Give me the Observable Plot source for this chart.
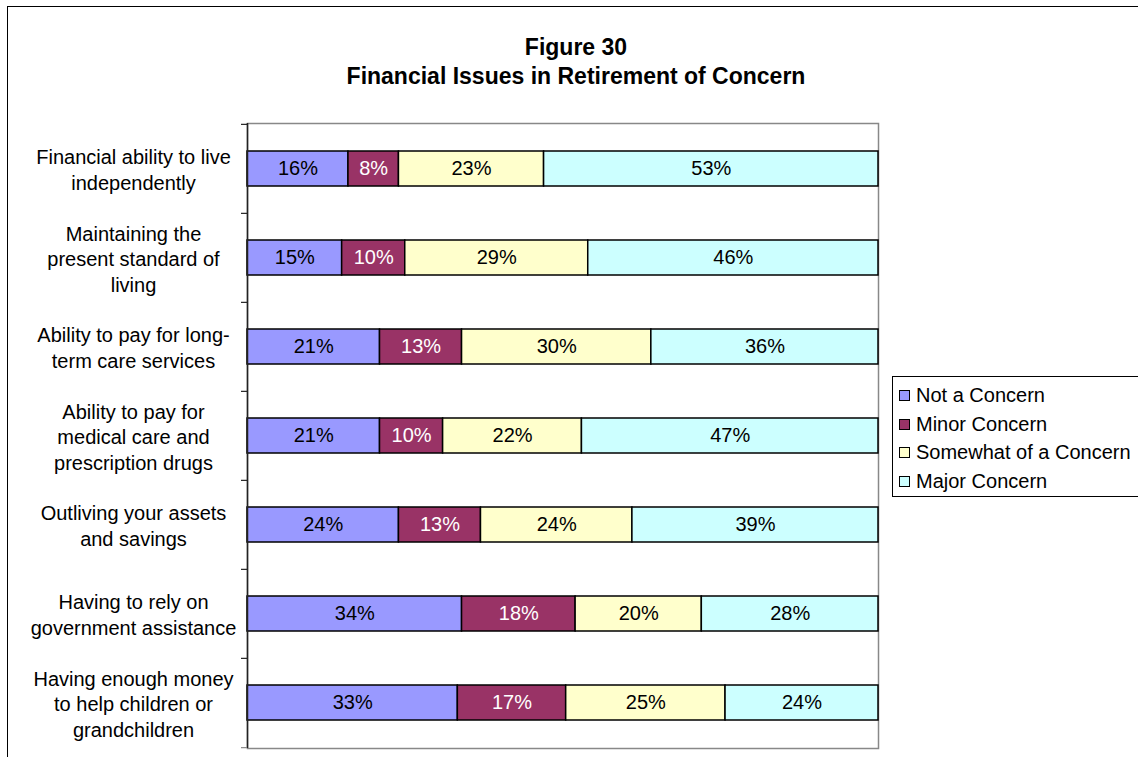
<!DOCTYPE html>
<html>
<head>
<meta charset="utf-8">
<script src="https://cdn.jsdelivr.net/npm/d3@7"></script>
<script src="https://cdn.jsdelivr.net/npm/@observablehq/plot@0.6"></script>
<style>
  html, body { margin: 0; padding: 0; background: #fff; overflow: hidden; }
  body { width: 1138px; height: 757px; position: relative; font-family: "Liberation Sans", Arial, sans-serif; }
  #frame { position: absolute; left: 7px; top: 6px; width: 1150px; height: 770px; border: 1px solid #000; box-sizing: border-box; }
  #title { position: absolute; left: 0; width: 1152px; top: 33px; text-align: center; font-weight: bold; font-size: 23px; line-height: 29px; color: #000; }
  #chart { position: absolute; left: 0; top: 0; }
  #legend { position: absolute; left: 892px; top: 376px; width: 270px; height: 121px; border: 1px solid #000; box-sizing: border-box; background: #fff; }
  .item { position: absolute; left: 6px; height: 28px; font-size: 20px; line-height: 28px; color: #000; white-space: nowrap; }
  .sw { display: inline-block; width: 11px; height: 11px; border: 1px solid #000; box-sizing: border-box; margin-right: 6px; vertical-align: 1px; }
</style>
</head>
<body>
<div id="frame"></div>
<div id="chart"></div>
<div id="title">Figure 30<br>Financial Issues in Retirement of Concern</div>
<div id="legend"></div>
<script>
const categories = [
  "Financial ability to live\nindependently",
  "Maintaining the\npresent standard of\nliving",
  "Ability to pay for long-\nterm care services",
  "Ability to pay for\nmedical care and\nprescription drugs",
  "Outliving your assets\nand savings",
  "Having to rely on\ngovernment assistance",
  "Having enough money\nto help children or\ngrandchildren"
];
const seriesNames = ["Not a Concern", "Minor Concern", "Somewhat of a Concern", "Major Concern"];
const seriesColors = ["#9999FF", "#993366", "#FFFFCC", "#CCFFFF"];
const seriesTextColors = ["#000", "#fff", "#000", "#000"];
const notConcern = [16, 15, 21, 21, 24, 34, 33];
const minorConcern = [8, 10, 13, 10, 13, 18, 17];
const somewhatConcern = [23, 29, 30, 22, 24, 20, 25];
const majorConcern = [53, 46, 36, 47, 39, 28, 24];

const seriesValues = [notConcern, minorConcern, somewhatConcern, majorConcern];
const rows = [];
categories.forEach((c, i) => {
  seriesNames.forEach((s, j) => {
    rows.push({cat: c, series: s, value: seriesValues[j][i]});
  });
});

const plotTop = 123, plotBottom = 748, plotLeft = 247, plotRight = 878;
const step = (plotBottom - plotTop) / categories.length;

const chart = Plot.plot({
  width: 1138,
  height: 757,
  marginLeft: plotLeft,
  marginRight: 1138 - plotRight,
  marginTop: plotTop,
  marginBottom: 757 - plotBottom,
  style: {fontFamily: "Liberation Sans, Arial, sans-serif", fontSize: "20px", background: "transparent", overflow: "visible"},
  x: {domain: [0, 1], axis: null},
  y: {domain: categories, paddingInner: 0.608, paddingOuter: 0.304, axis: null, label: null},
  color: {domain: seriesNames, range: seriesColors},
  marks: [
    Plot.frame({stroke: "#888", strokeWidth: 1.5}),
    Plot.barX(rows, Plot.stackX({
      x: "value", y: "cat", z: "series", offset: "normalize",
      fill: "series", stroke: "#000", strokeWidth: 1.5
    })),
    Plot.text(rows, Plot.stackX({
      x: "value", y: "cat", z: "series", offset: "normalize",
      text: d => d.value + "%",
      fill: d => seriesTextColors[seriesNames.indexOf(d.series)],
      fontSize: 20
    })),
    Plot.ruleX([0], {stroke: "#222", strokeWidth: 1.5}),
    Plot.axisY({ticks: categories, tickSize: 6, tickFormat: () => "", label: null, dy: -step / 2, stroke: "#222", strokeWidth: 1.2}),
    Plot.axisY({ticks: categories.slice(-1), tickSize: 6, tickFormat: () => "", label: null, dy: step / 2, stroke: "#888", strokeWidth: 1.2}),
    Plot.text(categories, {
      y: d => d, text: d => d, frameAnchor: "left", dx: -114,
      textAnchor: "middle", lineAnchor: "middle", lineHeight: 1.27,
      fontSize: 20, fill: "#000"
    })
  ]
});
document.getElementById("chart").appendChild(chart);

const legend = document.getElementById("legend");
seriesNames.forEach((s, j) => {
  const div = document.createElement("div");
  div.className = "item";
  div.style.top = (4 + j * 28.5) + "px";
  const sw = document.createElement("span");
  sw.className = "sw";
  sw.style.background = seriesColors[j];
  div.appendChild(sw);
  div.appendChild(document.createTextNode(s));
  legend.appendChild(div);
});
</script>
</body>
</html>
